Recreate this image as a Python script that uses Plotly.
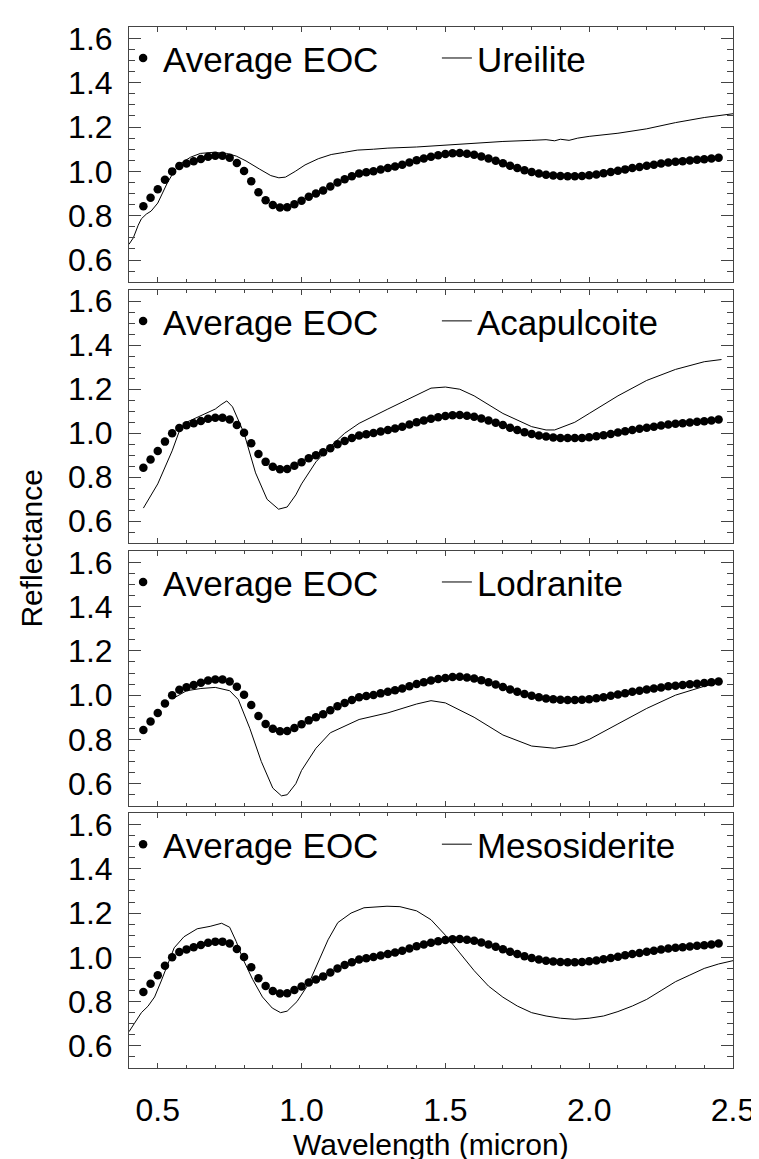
import plotly.graph_objects as go
from plotly.subplots import make_subplots

# ---- data ----
eoc_wl = [0.45 + 0.025 * i for i in range(81)]
eoc_refl = [0.843, 0.881, 0.919, 0.962, 1.000, 1.024, 1.036, 1.046, 1.056, 1.066,
            1.071, 1.071, 1.062, 1.038, 1.002, 0.955, 0.906, 0.870, 0.848, 0.837,
            0.838, 0.852, 0.868, 0.886, 0.900, 0.914, 0.932, 0.950, 0.965, 0.978,
            0.990, 0.996, 1.001, 1.008, 1.015, 1.022, 1.030, 1.040, 1.050, 1.058,
            1.066, 1.073, 1.078, 1.082, 1.083, 1.080, 1.075, 1.067, 1.058, 1.048,
            1.037, 1.025, 1.015, 1.005, 0.997, 0.990, 0.985, 0.981, 0.979, 0.978,
            0.978, 0.979, 0.982, 0.986, 0.991, 0.997, 1.003, 1.009, 1.015, 1.020,
            1.025, 1.030, 1.035, 1.040, 1.043, 1.046, 1.049, 1.052, 1.055, 1.058,
            1.062]

ureilite_wl = [0.40, 0.415, 0.432, 0.443, 0.46, 0.477, 0.50, 0.517, 0.534, 0.557,
               0.58, 0.614, 0.648, 0.693, 0.739, 0.773, 0.807, 0.853, 0.893, 0.921,
               0.944, 0.978, 1.012, 1.058, 1.103, 1.149, 1.194, 1.25, 1.30, 1.40,
               1.50, 1.60, 1.70, 1.80, 1.85, 1.88, 1.90, 1.93, 1.96, 2.00, 2.10,
               2.20, 2.30, 2.40, 2.50]
ureilite_refl = [0.671, 0.700, 0.757, 0.786, 0.807, 0.821, 0.857, 0.900, 0.950, 1.000,
                 1.036, 1.064, 1.081, 1.086, 1.081, 1.069, 1.047, 1.011, 0.981, 0.971,
                 0.974, 1.000, 1.029, 1.057, 1.076, 1.086, 1.096, 1.100, 1.105, 1.110,
                 1.118, 1.128, 1.135, 1.140, 1.143, 1.138, 1.145, 1.140, 1.150, 1.158,
                 1.172, 1.192, 1.220, 1.243, 1.260]

acapulcoite_wl = [0.45, 0.50, 0.55, 0.575, 0.60, 0.65, 0.70, 0.72, 0.74, 0.76,
                  0.80, 0.84, 0.88, 0.92, 0.95, 0.98, 1.00, 1.05, 1.10, 1.15,
                  1.20, 1.30, 1.40, 1.45, 1.50, 1.55, 1.60, 1.70, 1.80, 1.85,
                  1.88, 1.95, 2.00, 2.10, 2.20, 2.30, 2.40, 2.46]
acapulcoite_refl = [0.660, 0.770, 0.920, 1.010, 1.050, 1.080, 1.110, 1.130, 1.147, 1.120,
                    1.000, 0.820, 0.700, 0.655, 0.665, 0.720, 0.770, 0.870, 0.940, 1.000,
                    1.045, 1.110, 1.175, 1.205, 1.210, 1.200, 1.170, 1.090, 1.030, 1.015,
                    1.015, 1.050, 1.090, 1.170, 1.240, 1.290, 1.325, 1.335]

lodranite_wl = [0.56, 0.60, 0.65, 0.70, 0.75, 0.78, 0.82, 0.86, 0.90, 0.93,
                0.95, 0.98, 1.00, 1.05, 1.10, 1.20, 1.30, 1.40, 1.45, 1.50,
                1.60, 1.70, 1.80, 1.88, 1.95, 2.00, 2.10, 2.20, 2.30, 2.40, 2.45]
lodranite_refl = [0.990, 1.020, 1.030, 1.035, 1.020, 0.980, 0.850, 0.700, 0.580, 0.545,
                  0.550, 0.600, 0.660, 0.760, 0.830, 0.890, 0.920, 0.960, 0.975, 0.965,
                  0.900, 0.820, 0.770, 0.760, 0.775, 0.800, 0.870, 0.940, 1.000, 1.040, 1.055]

mesosiderite_wl = [0.40, 0.42, 0.443, 0.466, 0.489, 0.512, 0.534, 0.557, 0.591, 0.637,
                   0.682, 0.722, 0.75, 0.773, 0.796, 0.83, 0.864, 0.898, 0.927, 0.95,
                   0.984, 1.024, 1.058, 1.092, 1.126, 1.172, 1.217, 1.297, 1.342, 1.40,
                   1.45, 1.50, 1.55, 1.60, 1.65, 1.70, 1.75, 1.80, 1.85, 1.90,
                   1.95, 2.00, 2.05, 2.10, 2.15, 2.20, 2.25, 2.30, 2.35, 2.40, 2.45, 2.50]
mesosiderite_refl = [0.664, 0.707, 0.750, 0.779, 0.821, 0.893, 0.971, 1.043, 1.093, 1.129,
                     1.140, 1.154, 1.136, 1.071, 0.993, 0.900, 0.821, 0.771, 0.750, 0.757,
                     0.800, 0.879, 0.979, 1.079, 1.157, 1.200, 1.224, 1.231, 1.229, 1.210,
                     1.170, 1.100, 1.020, 0.940, 0.870, 0.820, 0.780, 0.750, 0.735, 0.725,
                     0.720, 0.725, 0.735, 0.755, 0.780, 0.810, 0.850, 0.890, 0.920, 0.950,
                     0.970, 0.985]

panel_names = ["Ureilite", "Acapulcoite", "Lodranite", "Mesosiderite"]
panel_wl = [ureilite_wl, acapulcoite_wl, lodranite_wl, mesosiderite_wl]
panel_refl = [ureilite_refl, acapulcoite_refl, lodranite_refl, mesosiderite_refl]

x_ticks = [0.5, 1.0, 1.5, 2.0, 2.5]
y_ticks = [0.6, 0.8, 1.0, 1.2, 1.4, 1.6]

# ---- figure ----
W, H = 759, 1159
ML, MR, MT, MB = 121, 24, 17, 99
PW = W - ML - MR
fig = make_subplots(rows=4, cols=1, shared_xaxes=False)

def pix_to_frac(ypix):
    return (H - MB - ypix) / (H - MT - MB)

domains = [(272.7, 17.3), (534.3, 280.7), (797.3, 542.3), (1060, 805)]
FONT = "Liberation Sans, Arial, Helvetica, sans-serif"

legends = {}
for i in range(4):
    dot_key = "legend" if i == 0 else f"legend{2 * i + 1}"
    line_key = f"legend{2 * i + 2}"
    fig.add_trace(go.Scatter(x=eoc_wl, y=eoc_refl, mode="markers", name="Average EOC",
                             marker=dict(color="black", size=8.5), legend=dot_key),
                  row=i + 1, col=1)
    fig.add_trace(go.Scatter(x=panel_wl[i], y=panel_refl[i], mode="lines",
                             name=panel_names[i], line=dict(color="black", width=1),
                             legend=line_key),
                  row=i + 1, col=1)
    top = domains[i][1]
    common = dict(orientation="h", xanchor="left", yanchor="middle",
                  y=pix_to_frac(top + 31),
                  bgcolor="rgba(0,0,0,0)", borderwidth=0,
                  font=dict(family=FONT, size=35, color="black"),
                  itemsizing="trace")
    legends[dot_key] = dict(x=(115 - ML) / PW, **common)
    legends[line_key] = dict(x=(434 - ML) / PW, **common)
fig.update_layout(**legends)

axis_color = "#444444"
for i in range(4):
    b, t = domains[i]
    yname = "yaxis" if i == 0 else f"yaxis{i+1}"
    xname = "xaxis" if i == 0 else f"xaxis{i+1}"
    fig.layout[yname].update(
        domain=[pix_to_frac(b), pix_to_frac(t)], range=[0.5, 1.65],
        tickvals=y_ticks, ticktext=[f"{v:.1f}" for v in y_ticks],
        ticks="inside", ticklen=12, tickwidth=1, tickcolor=axis_color,
        minor=dict(dtick=0.05, tick0=0.5, ticks="inside", ticklen=6,
                   tickcolor=axis_color, tickwidth=1),
        showline=True, linecolor=axis_color, linewidth=1, mirror="ticks",
        showgrid=False, zeroline=False,
        tickfont=dict(family=FONT, size=32, color="black"),
        ticklabelstandoff=9,
    )
    fig.layout[xname].update(
        range=[0.4, 2.5], tickvals=x_ticks,
        ticktext=[f"{v:.1f}" for v in x_ticks] if i == 3 else None,
        showticklabels=(i == 3),
        ticks="inside", ticklen=5, tickwidth=1, tickcolor=axis_color,
        minor=dict(dtick=0.1, tick0=0.4, ticks="inside", ticklen=3,
                   tickcolor=axis_color, tickwidth=1),
        showline=True, linecolor=axis_color, linewidth=1, mirror="ticks",
        showgrid=False, zeroline=False,
        tickfont=dict(family=FONT, size=32, color="black"),
        ticklabelstandoff=14,
    )
    if i < 3:
        fig.layout[xname].update(matches="x4")

fig.add_annotation(text="Reflectance", textangle=-90, showarrow=False,
                   xref="paper", yref="paper",
                   x=(22 - ML) / PW, y=pix_to_frac(540),
                   xanchor="center", yanchor="middle",
                   font=dict(family=FONT, size=30, color="black"))
fig.add_annotation(text="Wavelength (micron)", showarrow=False,
                   xref="paper", yref="paper",
                   x=(428 - ML) / PW, y=pix_to_frac(1137),
                   xanchor="center", yanchor="middle",
                   font=dict(family=FONT, size=30, color="black"))

fig.update_layout(width=W, height=H, margin=dict(l=ML, r=MR, t=MT, b=MB),
                  plot_bgcolor="white", paper_bgcolor="white", showlegend=True)

fig.write_html("out.html")
